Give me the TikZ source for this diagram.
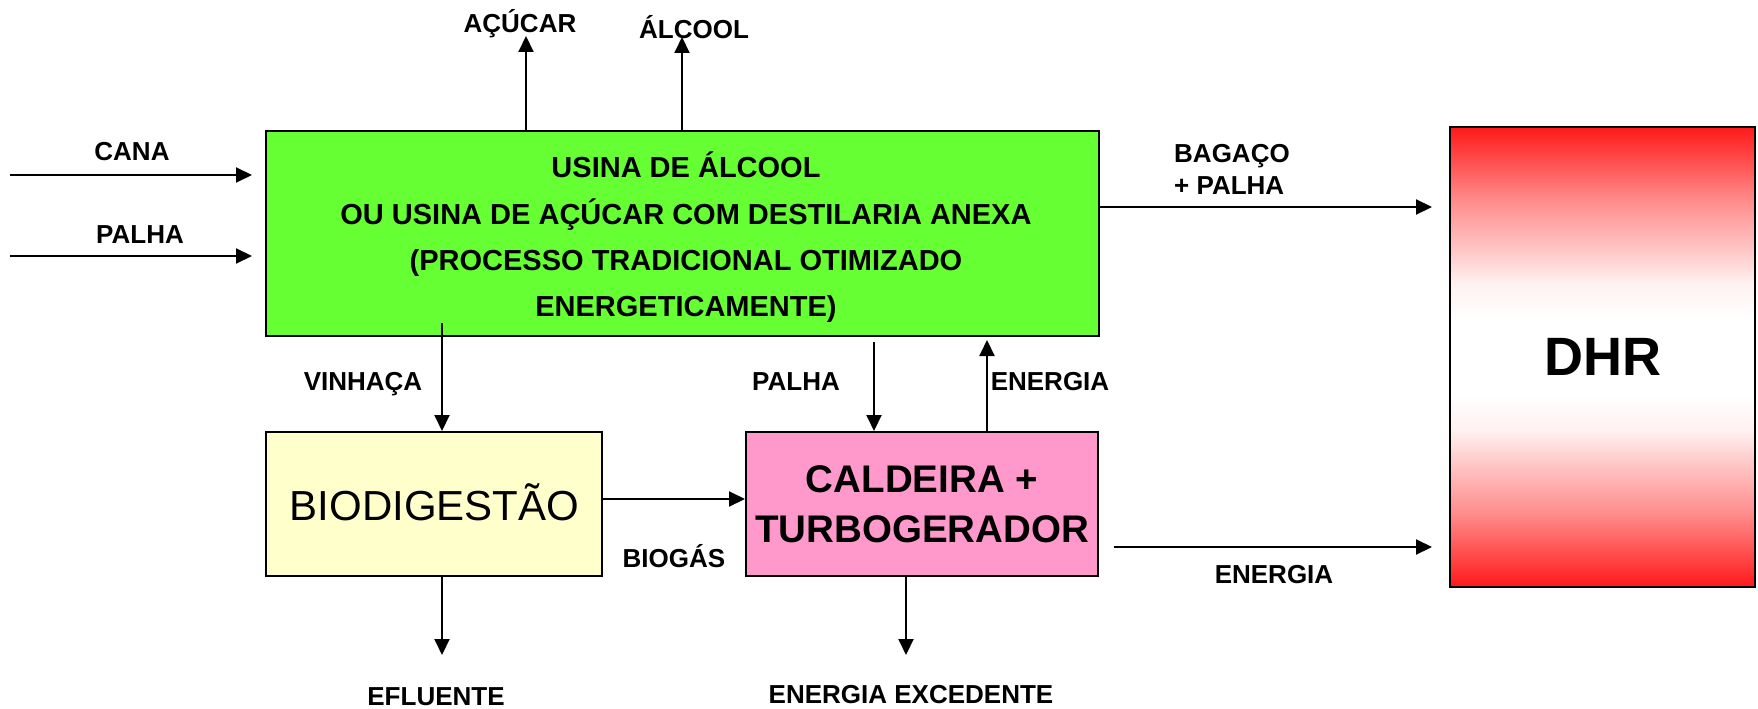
\documentclass[tikz,border=0pt]{standalone}
\usepackage{fontspec}
\setmainfont{Liberation Sans}
\usetikzlibrary{arrows.meta,calc}
\definecolor{usinagreen}{RGB}{102,255,51}
\definecolor{bioyellow}{RGB}{255,255,204}
\definecolor{caldpink}{RGB}{255,153,204}
\definecolor{dhrred}{RGB}{255,25,25}
\definecolor{dhrA}{RGB}{255,140,140}
\definecolor{dhrB}{RGB}{255,197,197}
\definecolor{dhrC}{RGB}{255,241,241}
\pgfdeclareverticalshading{dhrshade}{100bp}{color(0bp)=(dhrred); color(25bp)=(dhrred); color(33bp)=(dhrA); color(38.25bp)=(dhrB); color(42bp)=(dhrC); color(46bp)=(white); color(54bp)=(white); color(58bp)=(dhrC); color(61.75bp)=(dhrB); color(67bp)=(dhrA); color(75bp)=(dhrred); color(100bp)=(dhrred)}
\begin{document}
\begin{tikzpicture}[x=1pt,y=-1pt,
  box/.style={draw=black, line width=2pt, inner sep=0pt},
  lbl/.style={font=\fontsize{26}{30}\selectfont\bfseries, inner sep=0pt, anchor=base},
  arr/.style={line width=2pt, -{Triangle[length=16pt,width=15pt]}}]
\useasboundingbox (0,0) rectangle (1758,709);

% boxes
\node[box, fill=usinagreen, minimum width=833pt, minimum height=205pt] (usina) at (682.5,233.5) {};
\node[inner sep=0pt, align=center, font=\fontsize{29}{46.3}\selectfont\bfseries] (usinatxt) at (686,237.5)
  {USINA DE ÁLCOOL\\OU USINA DE AÇÚCAR COM DESTILARIA ANEXA\\(PROCESSO TRADICIONAL OTIMIZADO\\ENERGETICAMENTE)};
\node[box, shading=dhrshade, minimum width=305pt, minimum height=460pt,
  font=\fontsize{54}{60}\selectfont\bfseries] (dhr) at (1602.5,357) {DHR};
\node[box, fill=bioyellow, minimum width=336pt, minimum height=144pt] (bio) at (434,504) {};
\node[inner sep=0pt, anchor=base, font=\fontsize{42}{48}\selectfont] (biotxt) at (434.5,520) {BIODIGESTÃO};
\node[box, fill=caldpink, minimum width=352pt, minimum height=144pt, align=center,
  font=\fontsize{38.5}{49.5}\selectfont\bfseries] (cald) at (922,504) {CALDEIRA +\\TURBOGERADOR};

% coordinates for free ends
\coordinate (canaS) at (10,175);
\coordinate (palhaS) at (10,256);
\coordinate (acucarT) at (526,36);
\coordinate (alcoolT) at (682,37);
\coordinate (bagacoY) at (0,207);
\coordinate (vinhS) at (442,323);
\coordinate (biogasY) at (0,499);
\coordinate (palhaS2) at (874,342);
\coordinate (energT) at (987,340);
\coordinate (energS) at (1114,547);
\coordinate (eflT) at (442,655);
\coordinate (excT) at (906,655);

% connectors
\draw[arr, shorten >=13pt] (canaS) -- (canaS -| usina.west);
\draw[arr, shorten >=13pt] (palhaS) -- (palhaS -| usina.west);
\draw[arr] (acucarT |- usina.north) -- (acucarT);
\draw[arr] (alcoolT |- usina.north) -- (alcoolT);
\draw[arr, shorten >=17pt] (bagacoY -| usina.east) -- (bagacoY -| dhr.west);
\draw[arr] (vinhS) -- (vinhS |- bio.north);
\draw[arr] (biogasY -| bio.east) -- (biogasY -| cald.west);
\draw[arr] (palhaS2) -- (palhaS2 |- cald.north);
\draw[arr] (energT |- cald.north) -- (energT);
\draw[arr, shorten >=17pt] (energS) -- (energS -| dhr.west);
\draw[arr] (eflT |- bio.south) -- (eflT);
\draw[arr] (excT |- cald.south) -- (excT);

% labels
\node[lbl] (lcana) at (132,160) {CANA};
\node[lbl] (lpalha) at (140,243) {PALHA};
\node[lbl] (lacucar) at (520,33) {AÇÚCAR};
\node[lbl] (lalcool) at (694,39) {ÁLCOOL};
\node[lbl, anchor=base west] (lbagaco) at (1174,162) {BAGAÇO};
\node[lbl, anchor=base west] (lbpalha) at (1174,194) {+ PALHA};
\node[lbl] (lvinhaca) at (363,390) {VINHAÇA};
\node[lbl] (lpalha2) at (796,390) {PALHA};
\node[lbl] (lenergia) at (1050,390) {ENERGIA};
\node[lbl] (lbiogas) at (674,567) {BIOGÁS};
\node[lbl] (lenergia2) at (1274,583) {ENERGIA};
\node[lbl] (lefluente) at (436,705) {EFLUENTE};
\node[lbl] (lexced) at (911,703) {ENERGIA EXCEDENTE};
\end{tikzpicture}
\end{document}
